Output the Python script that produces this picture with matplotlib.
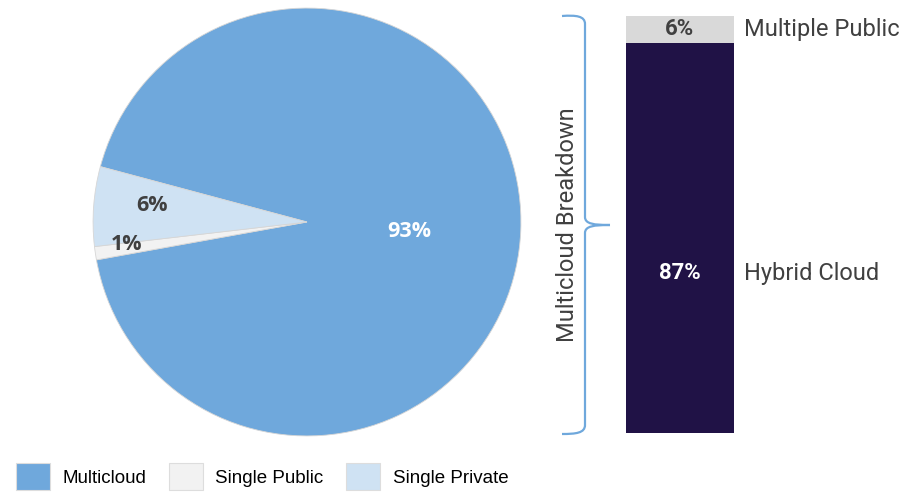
import matplotlib.pyplot as plt
from matplotlib.path import Path
from matplotlib.patches import PathPatch
import numpy as np

#---    Data
pie_labels = ['Multicloud', 'Single Public', 'Single Private']
pie_values = [93, 1, 6]
pie_colors = ['#6fa8dc', '#f2f2f2', '#cfe2f3']

bar_labels = ['Hybrid Cloud', 'Multiple Public']
bar_values = [87, 6]
bar_colors = ['#201246', '#d9d9d9']

W, H = 916, 493
fig = plt.figure(figsize=(W / 100, H / 100), dpi=100)

def px_axes(x0, y0, x1, y1):
    # axes from pixel box (top-left origin)
    return fig.add_axes([x0 / W, 1 - y1 / H, (x1 - x0) / W, (y1 - y0) / H])

#---    Pie
ax = px_axes(92, 7, 522, 437)
wedges, texts, autotexts = ax.pie(pie_values, colors=pie_colors, startangle=165, counterclock=False,
                                  autopct='%d%%', pctdistance=0.48,
                                  wedgeprops=dict(edgecolor='#d6d6d6', linewidth=0.6),
                                  textprops=dict(fontsize=15.5, fontweight='bold', family='Open Sans', color='#404040'))
ax.set_xlim(-1.005, 1.005)
ax.set_ylim(-1.005, 1.005)
ax.set_aspect('equal')
autotexts[0].set_color('white')
autotexts[0].set_position((0.479, -0.045))
# small slices: labels pushed outward
for w, t, d, shift in zip(wedges[1:], autotexts[1:], [0.85, 0.73], [-1.2, -2.0]):
    ang = np.deg2rad((w.theta1 + w.theta2) / 2 + shift)
    t.set_position((d * np.cos(ang), d * np.sin(ang)))

#---    Stacked bar
bx = px_axes(626, 16, 734, 433)
bottom = 0
for v, c in zip(bar_values, bar_colors):
    bx.bar(0, v, bottom=bottom, width=1, color=c)
    bottom += v
bx.set_xlim(-0.5, 0.5)
bx.set_ylim(0, sum(bar_values))
bx.axis('off')

hy, mp = bar_values
bx.text(0, hy * 0.41, f'{hy}%', ha='center', va='center', color='white', fontsize=16,
        fontweight='bold', family='Roboto')
bx.text(0, hy + mp / 2, f'{mp}%', ha='center', va='center', color='#404040', fontsize=16,
        fontweight='bold', family='Roboto')
bx.text(0.59, hy * 0.41, bar_labels[0], ha='left', va='center', color='#404040', fontsize=17,
        family='Roboto', clip_on=False)
bx.text(0.59, hy + mp / 2, bar_labels[1], ha='left', va='center', color='#404040', fontsize=17,
        family='Roboto', clip_on=False)

#---    Curly brace + title
ov = fig.add_axes([0, 0, 1, 1])
ov.set_xlim(0, W)
ov.set_ylim(H, 0)
ov.axis('off')
ov.patch.set_alpha(0)

xv, ytop, ybot, ymid = 585, 16, 433, 225
verts = [(562, ytop), (576, ytop - 1), (585, ytop), (xv, ytop + 8),
         (xv, ymid - 8),
         (xv, ymid - 1), (594, ymid), (610, ymid),
         (594, ymid), (xv, ymid + 1), (xv, ymid + 8),
         (xv, ybot - 8),
         (585, ybot), (576, ybot + 1), (562, ybot + 1)]
codes = [Path.MOVETO, Path.CURVE4, Path.CURVE4, Path.CURVE4,
         Path.LINETO,
         Path.CURVE4, Path.CURVE4, Path.CURVE4,
         Path.CURVE4, Path.CURVE4, Path.CURVE4,
         Path.LINETO,
         Path.CURVE4, Path.CURVE4, Path.CURVE4]
ov.add_patch(PathPatch(Path(verts, codes), facecolor='none', edgecolor='#6fa8dc', linewidth=1.6))
ov.text(567, ymid, 'Multicloud Breakdown', rotation=90, ha='center', va='center',
        color='#404040', fontsize=17, family='Roboto')

#---    Legend
leg = fig.legend(wedges, pie_labels, ncol=3, loc='lower left', bbox_to_anchor=(16 / W, 3 / H),
                 frameon=False, prop=dict(family='Liberation Sans', size=13.5),
                 handlelength=1.8, handleheight=1.8, handletextpad=0.68, columnspacing=1.2,
                 borderpad=0, borderaxespad=0)
for h in leg.legend_handles:
    h.set_edgecolor('#dddddd')
    h.set_linewidth(0.8)

plt.savefig('out.png', dpi=100)
